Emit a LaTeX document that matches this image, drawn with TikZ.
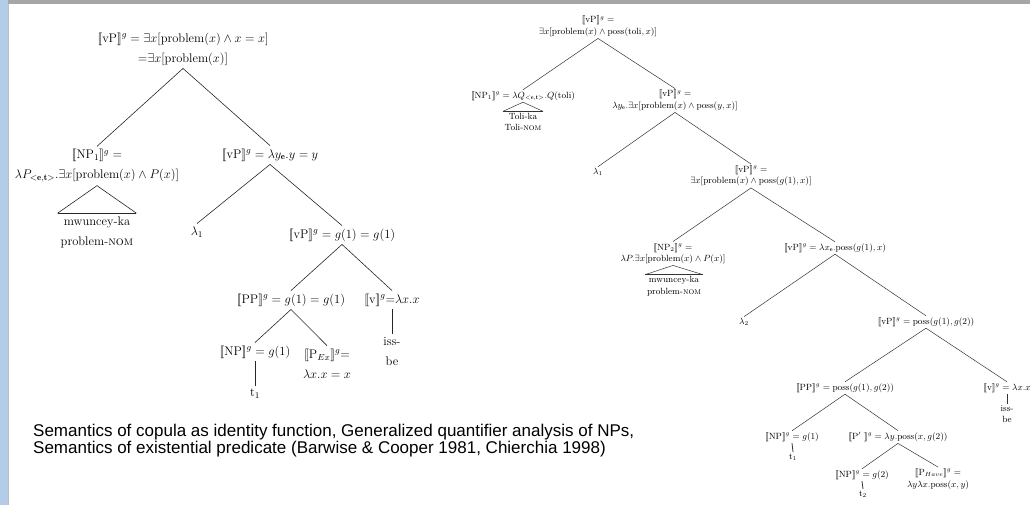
\RequirePackage{fix-cm}
\documentclass[tikz,border=0pt]{standalone}
\usepackage{amsmath,amssymb}
\usepackage{fontspec}
\newfontfamily\slidefont{Liberation Sans}
\usetikzlibrary{positioning}
\newcommand{\sem}[1]{[\![#1]\!]}
\definecolor{barblue}{HTML}{B3CDE8}
\definecolor{bargray}{HTML}{A6A6A6}

\begin{document}
\begin{tikzpicture}[x=1pt,y=-1pt,
  lt/.style={font=\fontsize{12.5}{20}\selectfont,align=center,inner sep=3pt},
  rt/.style={font=\fontsize{9}{11.5}\selectfont,align=center,inner sep=1.5pt},
  lbr/.style={line width=0.6pt,draw=black!85},
  rbr/.style={line width=0.5pt,draw=black!80}]
\useasboundingbox (0,0) rectangle (1030,505);
\fill[bargray] (0,0) rectangle (1030,4);
\fill[barblue] (0,0) rectangle (8,505);
\draw[black!25,line width=0.8pt] (8.5,4) -- (8.5,505);

% left tree
\node[lt] (lroot) at (183,49) {$\sem{\mathrm{vP}}^g = \exists x[\mathrm{problem}(x) \wedge x = x]$\\${=}\exists x[\mathrm{problem}(x)]$};
\node[lt] (lnp) at (97,166) {$\sem{\mathrm{NP}_1}^g =$\\$\lambda P_{<\mathbf{e},\mathbf{t}>}.\exists x[\mathrm{problem}(x) \wedge P(x)]$};
\node[lt] (lmw) at (97,232) {mwuncey-ka\\problem-\textsc{nom}};
\node[lt] (lvp) at (270,155) {$\sem{\mathrm{vP}}^g = \lambda y_{\mathbf{e}}.y = y$};
\node[lt] (llam) at (197,232) {$\lambda_1$};
\node[lt] (lvp2) at (342,235) {$\sem{\mathrm{vP}}^g = g(1) = g(1)$};
\node[lt] (lpp) at (291,300) {$\sem{\mathrm{PP}}^g = g(1) = g(1)$};
\node[lt] (lv) at (392,300) {$\sem{\mathrm{v}}^g{=}\lambda x.x$};
\node[lt] (liss) at (392,351.5) {iss-\\be};
\node[lt] (lnp3) at (255,352) {$\sem{\mathrm{NP}}^g = g(1)$};
\node[lt] (lt1) at (255,394) {t$_1$};
\node[lt] (lpex) at (327,363.5) {$\sem{\mathrm{P}_{Ex}}^g{=}$\\$\lambda x.x = x$};
\draw[lbr] (lroot.south) -- (lnp.north);
\draw[lbr] (lroot.south) -- (lvp.north);
\draw[lbr] (lnp.south) -- (lmw.north west) (lnp.south) -- (lmw.north east);
\draw[lbr,line width=1.2pt] (lmw.north west) -- (lmw.north east);
\draw[lbr] (lvp.south) -- (llam.north);
\draw[lbr] (lvp.south) -- (lvp2.north);
\draw[lbr] (lvp2.south) -- (lpp.north);
\draw[lbr] (lvp2.south) -- (lv.north);
\draw[lbr] (lv.south) -- (liss.north);
\draw[lbr] (lpp.south) -- (lnp3.north);
\draw[lbr] (lpp.south) -- (lpex.north);
\draw[lbr] (lnp3.south) -- (lt1.north);

% right tree
\node[rt] (rroot) at (598,26.5) {$\sem{\mathrm{vP}}^g =$\\$\exists x[\mathrm{problem}(x) \wedge \mathrm{poss}(\mathrm{toli}, x)]$};
\node[rt] (rnp1) at (523,96) {$\sem{\mathrm{NP}_1}^g = \lambda Q_{<\mathbf{e},\mathbf{t}>}.Q(\mathrm{toli})$};
\node[rt] (rtoli) at (523,122) {Toli-ka\\Toli-\textsc{nom}};
\node[rt] (rvp1) at (675,100.5) {$\sem{\mathrm{vP}}^g =$\\$\lambda y_{\mathbf{e}}.\exists x[\mathrm{problem}(x) \wedge \mathrm{poss}(y, x)]$};
\node[rt] (rlam1) at (598,172) {$\lambda_1$};
\node[rt] (rvp2) at (751,176) {$\sem{\mathrm{vP}}^g =$\\$\exists x[\mathrm{problem}(x) \wedge \mathrm{poss}(g(1), x)]$};
\node[rt] (rnp2) at (673,253.5) {$\sem{\mathrm{NP}_2}^g =$\\$\lambda P.\exists x[\mathrm{problem}(x) \wedge P(x)]$};
\node[rt] (rmw) at (674,286) {mwuncey-ka\\problem-\textsc{nom}};
\node[rt] (rvp3) at (835,248) {$\sem{\mathrm{vP}}^g = \lambda x_{\mathbf{e}}.\mathrm{poss}(g(1), x)$};
\node[rt] (rlam2) at (744,322) {$\lambda_2$};
\node[rt] (rvp4) at (926,322) {$\sem{\mathrm{vP}}^g = \mathrm{poss}(g(1), g(2))$};
\node[rt] (rpp) at (845,388) {$\sem{\mathrm{PP}}^g = \mathrm{poss}(g(1), g(2))$};
\node[rt] (rv) at (1007,388) {$\sem{\mathrm{v}}^g = \lambda x.x$};
\node[rt] (riss) at (1007,414) {iss-\\be};
\node[rt] (rnp3) at (792,437) {$\sem{\mathrm{NP}}^g = g(1)$};
\node[rt] (rt1) at (793,457) {t$_1$};
\node[rt] (rpbar) at (898,437) {$\sem{\mathrm{P}'\ }^g = \lambda y.\mathrm{poss}(x, g(2))$};
\node[rt] (rnp4) at (862,475) {$\sem{\mathrm{NP}}^g = g(2)$};
\node[rt] (rt2) at (863,494) {t$_2$};
\node[rt] (rhave) at (938,479) {$\sem{\mathrm{P}_{Have}}^g =$\\$\lambda y\lambda x.\mathrm{poss}(x, y)$};
\draw[rbr] (rroot.south) -- (rnp1.north);
\draw[rbr] (rroot.south) -- (rvp1.north);
\draw[rbr] (rnp1.south) -- (rtoli.north west) (rnp1.south) -- (rtoli.north east);
\draw[rbr,line width=1pt] (rtoli.north west) -- (rtoli.north east);
\draw[rbr] (rvp1.south) -- (rlam1.north);
\draw[rbr] (rvp1.south) -- (rvp2.north);
\draw[rbr] (rvp2.south) -- (rnp2.north);
\draw[rbr] (rvp2.south) -- (rvp3.north);
\draw[rbr] (rnp2.south) -- (rmw.north west) (rnp2.south) -- (rmw.north east);
\draw[rbr,line width=1pt] (rmw.north west) -- (rmw.north east);
\draw[rbr] (rvp3.south) -- (rlam2.north);
\draw[rbr] (rvp3.south) -- (rvp4.north);
\draw[rbr] (rvp4.south) -- (rpp.north);
\draw[rbr] (rvp4.south) -- (rv.north);
\draw[rbr,line width=0.8pt] (rv.south) -- (riss.north);
\draw[rbr] (rpp.south) -- (rnp3.north);
\draw[rbr] (rpp.south) -- (rpbar.north);
\draw[rbr,line width=0.8pt] (rnp3.south) -- (rt1.north);
\draw[rbr] (rpbar.south) -- (rnp4.north);
\draw[rbr] (rpbar.south) -- (rhave.north);
\draw[rbr,line width=0.8pt] (rnp4.south) -- (rt2.north);

% caption
\node[anchor=west,align=left,font=\slidefont\fontsize{17}{17.5}\selectfont,inner sep=0pt] (cap) at (33,440.5)
  {Semantics of copula as identity function, Generalized quantifier analysis of NPs,\\Semantics of existential predicate (Barwise \& Cooper 1981, Chierchia 1998)};
\end{tikzpicture}
\end{document}
